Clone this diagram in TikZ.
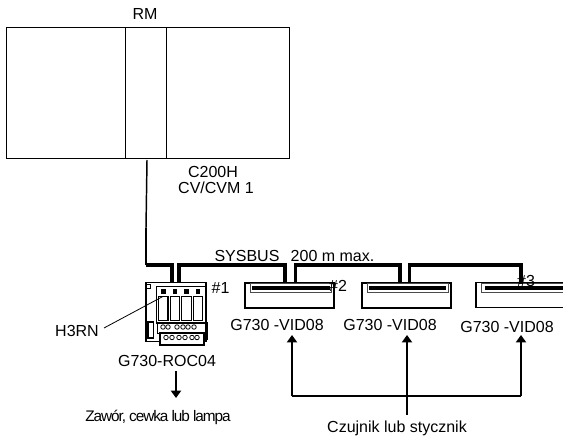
\documentclass[tikz,border=0pt]{standalone}
\usepackage{fontspec}
\setmainfont{Liberation Sans}
\usepackage{tikz}
\usetikzlibrary{arrows.meta, positioning, calc}
\tikzset{
  lbl/.style={inner sep=0pt, font=\fontsize{12}{14}\selectfont},
  rmbox/.style={draw, line width=0.7pt, minimum width=212.25pt, minimum height=98.25pt, inner sep=0pt},
  vidbox/.style={draw, line width=1.1pt, minimum width=66.75pt, minimum height=18.75pt, inner sep=0pt},
  vidslot/.style={draw=black!70, line width=0.4pt, minimum width=61pt, minimum height=6.5pt, inner sep=0pt},
  vidbar/.style={fill=black, minimum width=58pt, minimum height=3.4pt, inner sep=0pt},
  relay/.style={draw, line width=0.8pt, minimum width=7.2pt, minimum height=17.5pt, inner sep=0pt},
  relaytop/.style={fill=black, minimum width=3.6pt, minimum height=3.6pt, inner sep=0pt},
  term/.style={draw, circle, line width=0.6pt, minimum size=3.4pt, inner sep=0pt},
  part/.style={draw, line width=0.7pt, inner sep=0pt},
  bus/.style={line width=2.4pt},
  arr/.style={-{Triangle[length=5.5pt, width=7.5pt]}, line width=2pt},
  wire/.style={line width=1.1pt},
}
\begin{document}
\begin{tikzpicture}[x=0.75pt, y=-0.75pt]
  \useasboundingbox (0,0) rectangle (563,438);

  % CPU rack
  \node[rmbox] (rm) at (147.5,92.5) {};
  \draw[line width=0.7pt] ($(rm.north west)+(119.5,1)$) coordinate (slotl) -- (slotl |- rm.south);
  \draw[line width=0.7pt] ($(rm.north west)+(161,1)$) coordinate (slotr) -- (slotr |- rm.south);
  \node[lbl] (rmlabel) at (145,14) {RM};
  \node[lbl] (cpu) at (213,172) {C200H};
  \node[lbl] (cvm) at (216,188) {CV/CVM 1};

  % output terminal
  \node[part, line width=1.1pt, minimum width=45pt, minimum height=44pt] (roc) at (176,312) {};
  \node[part, minimum width=37pt, minimum height=28pt] (rocin) at (181.5,305) {};
  \node[part, minimum width=37.5pt, minimum height=8pt] (rocrow) at (182,328) {};
  \node[part, line width=1.1pt, fill=white, minimum width=33pt, minimum height=9pt] (rocbot) at (182,339) {};
  \node[part, minimum width=3pt, minimum height=3pt] (rocpin) at (148,286) {};
  \node[part, line width=1pt, minimum width=4pt, minimum height=12pt] (rocfuse) at (150.5,330) {};
  \node[part, minimum width=3pt, minimum height=5pt] (rocclip) at (205,336.5) {};
  \foreach \i/\x in {1/163.2, 2/175, 3/186.7, 4/198} {
    \node[relay] (relay\i) at (\x,308.5) {};
    \node[relaytop, above=1.5pt of relay\i] (relaytop\i) {};
  }
  \foreach \i/\x in {1/163, 2/168, 3/177, 4/183, 5/188, 6/194}
    \node[term] (terma\i) at (\x,327) {};
  \foreach \i/\x in {1/166, 2/172, 3/179, 4/185, 5/192, 6/197}
    \node[term] (termb\i) at (\x,337.5) {};
  \node[lbl] (rocnum) at (220.5,288) {\#1};
  \node[lbl] (h3rn) at (77,331) {H3RN};
  \node[lbl] (roclabel) at (167,361) {G730-ROC04};
  \coordinate (h3rnlead) at (104,328);
  \draw[line width=0.6pt] (h3rnlead) -- (relay1.north);

  % sensor terminals
  \node[vidbox] (vida) at (289.5,295.5) {};
  \node[vidslot] (slota) at (291,288) {};
  \node[vidbar] (bara) at (slota) {};
  \node[vidbox] (vidb) at (406.5,295.5) {};
  \node[vidslot] (slotb) at (407.5,288) {};
  \node[vidbar] (barb) at (slotb) {};
  \node[vidbox, minimum width=90pt] (vidc) at (536,295) {};
  \node[vidslot, minimum width=65pt] (slotc) at (525,288) {};
  \node[vidbar, minimum width=60pt] (barc) at (slotc) {};
  \node[lbl] (vidalabel) at (277,325) {G730 -VID08};
  \node[lbl] (vidblabel) at (390,325) {G730 -VID08};
  \node[lbl] (vidclabel) at (507,327) {G730 -VID08};
  \node[lbl] (vidanum) at (338,286) {\#2};
  \node[lbl] (vidcnum) at (526,281) {\#3};
  \node[lbl] (sysbus) at (247,256) {SYSBUS};
  \node[lbl] (maxlen) at (332.5,256) {200 m max.};

  % field devices
  \node[lbl, font=\fontsize{11.5}{13}\selectfont\addfontfeature{LetterSpace=-7}] (zawor) at (158,417) {Zawór, cewka lub lampa};
  \node[lbl] (czujnik) at (397,428) {Czujnik lub stycznik};

  % bus
  \coordinate (cputap) at (147,160);
  \coordinate (stub) at (146,228);
  \coordinate (stubend) at (146,236);
  \coordinate (busturn) at (146,265);
  \coordinate (rocnw) at (172,283);
  \coordinate (rocne) at (179,283);
  \coordinate (vidaw) at (285,283);
  \coordinate (vidae) at (295.5,283);
  \coordinate (vidbw) at (400,283);
  \coordinate (vidbe) at (409.5,283);
  \coordinate (vidcw) at (521,284);
  \draw[wire] (cputap) -- (stub);
  \draw[line width=2pt] (stub) -- (stubend);
  \draw[wire] (stubend) -- (busturn);
  \draw[bus] (busturn) -| (rocnw);
  \draw[bus] (rocne) |- (busturn -| vidaw) -- (vidaw);
  \draw[bus] (vidae) |- (busturn -| vidbw) -- (vidbw);
  \draw[bus] (vidbe) |- (busturn -| vidcw) -- (vidcw);

  % arrows
  \coordinate (rocout) at (176,371);
  \coordinate (zawortop) at (176,398);
  \draw[arr] (rocout) -- (zawortop);
  \coordinate (joinl) at (292,396);
  \coordinate (joinr) at (521,396);
  \coordinate (czujniktop) at (407,415);
  \coordinate (vidatip) at (292,335);
  \coordinate (vidbtip) at (407,335);
  \coordinate (vidctip) at (521,335);
  \draw[arr] (joinr) -- (vidctip);
  \draw[arr] (joinl) -- (vidatip);
  \draw[line width=2pt] (joinl) -- (joinr);
  \draw[arr, line width=1.5pt] (czujniktop) -- (vidbtip);
\end{tikzpicture}
\end{document}
